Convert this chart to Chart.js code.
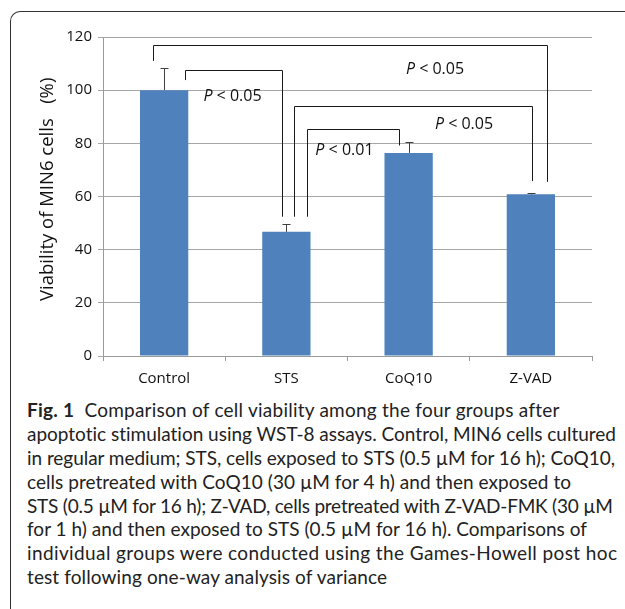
<!DOCTYPE html>
<html>
<head>
<meta charset="utf-8">
<script src="https://cdn.jsdelivr.net/npm/chart.js@4/dist/chart.umd.min.js"></script>
<style>
  html, body { margin: 0; padding: 0; background: #fff; overflow: hidden; }
  body { width: 625px; height: 609px; position: relative; }
  #frame {
    position: absolute; left: 10px; top: 11px; width: 800px; height: 800px;
    border-left: 1px solid #333; border-top: 1px solid #333;
    border-top-left-radius: 10px;
  }
  #chart { position: absolute; left: 0; top: 0; }
  #caption {
    position: absolute; left: 27px; top: 398px;
    font-family: Lato, "Open Sans", sans-serif; font-size: 19px; color: #222;
  }
  #caption div { white-space: nowrap; height: 23.9px; line-height: 23.9px; }
  #caption b { font-weight: 700; }
</style>
</head>
<body>
<div id="frame"></div>
<canvas id="chart" width="625" height="395"></canvas>
<div id="caption"></div>

<script>
// Data
const groups = ['Control', 'STS', 'CoQ10', 'Z-VAD'];
const viability = [100, 46.7, 76.4, 60.8];
const sdUpper = [8.2, 2.8, 4.1, 0.6];
const yTicks = [0, 20, 40, 60, 80, 100, 120];

// Pairwise comparisons shown with brackets
const pairs = [[0, 3], [0, 1], [1, 3], [1, 2]];
const pLabels = ['P < 0.05', 'P < 0.05', 'P < 0.05', 'P < 0.01'];

// Bracket geometry (x in category units, y in axis units)
const bracketShape = [
  { x1: -0.093, x2: 3.129, top: 116.9, foot1: 111, foot2: 65.5, lx: 2.216, ly: 107.8 },
  { x1: 0.173, x2: 0.962, top: 107.4, foot1: 103.8, foot2: 52.4, lx: 0.559, ly: 97.7 },
  { x1: 1.065, x2: 3.012, top: 94, foot1: 52.4, foot2: 65.8, lx: 2.453, ly: 87.2 },
  { x1: 1.169, x2: 1.924, top: 85.4, foot1: 52.4, foot2: 79.2, lx: 1.475, ly: 77.4 }
];

// Error bars (upper only) drawn through the scales
const errorBars = {
  id: 'errorBars',
  afterDatasetsDraw(chart) {
    const ctx = chart.ctx;
    const y = chart.scales.y;
    const meta = chart.getDatasetMeta(0);
    ctx.save();
    ctx.strokeStyle = '#404040';
    ctx.lineWidth = 1;
    meta.data.forEach((bar, i) => {
      const x = Math.round(bar.x) + 0.5;
      const yTop = Math.round(y.getPixelForValue(viability[i] + sdUpper[i])) + 0.5;
      const yBase = y.getPixelForValue(viability[i]);
      ctx.beginPath();
      ctx.moveTo(x, yBase);
      ctx.lineTo(x, yTop);
      ctx.moveTo(x - 4, yTop);
      ctx.lineTo(x + 4, yTop);
      ctx.stroke();
    });
    ctx.restore();
  }
};

// Significance brackets and their labels
const brackets = {
  id: 'brackets',
  afterDraw(chart) {
    const ctx = chart.ctx;
    const xs = chart.scales.x, ys = chart.scales.y;
    ctx.save();
    ctx.strokeStyle = '#1a1a1a';
    ctx.lineWidth = 1;
    pairs.forEach((p, i) => {
      const b = bracketShape[i];
      const x1 = Math.round(xs.getPixelForValue(b.x1)) + 0.5;
      const x2 = Math.round(xs.getPixelForValue(b.x2)) + 0.5;
      const yt = Math.round(ys.getPixelForValue(b.top)) + 0.5;
      ctx.beginPath();
      ctx.moveTo(x1, ys.getPixelForValue(b.foot1));
      ctx.lineTo(x1, yt);
      ctx.lineTo(x2, yt);
      ctx.lineTo(x2, ys.getPixelForValue(b.foot2));
      ctx.stroke();

      // label: italic P followed by the rest
      const label = pLabels[i];
      const first = label.charAt(0), rest = label.slice(1);
      ctx.fillStyle = '#111';
      ctx.textBaseline = 'middle';
      ctx.font = 'italic 16px "Open Sans"';
      const w1 = ctx.measureText(first).width;
      ctx.font = '16px "Open Sans"';
      const w2 = ctx.measureText(rest).width;
      const cx = xs.getPixelForValue(b.lx);
      const cy = ys.getPixelForValue(b.ly);
      const start = cx - (w1 + w2) / 2;
      ctx.font = 'italic 16px "Open Sans"';
      ctx.textAlign = 'left';
      ctx.fillText(first, start, cy);
      ctx.font = '16px "Open Sans"';
      ctx.fillText(rest, start + w1, cy);
    });
    ctx.restore();
  }
};

new Chart(document.getElementById('chart'), {
  type: 'bar',
  data: {
    labels: groups,
    datasets: [{
      data: viability,
      backgroundColor: '#4f81bd',
      borderWidth: 0,
      barPercentage: 0.395,
      categoryPercentage: 1.0
    }]
  },
  options: {
    responsive: false,
    animation: false,
    events: [],
    layout: { padding: { top: 37, right: 33, bottom: 0, left: 0 } },
    plugins: { legend: { display: false }, tooltip: { enabled: false } },
    scales: {
      x: {
        afterFit(scale) { scale.height = 39; },
        grid: { offset: true, drawOnChartArea: false, tickLength: 5, color: '#9a9a9a' },
        border: { color: '#9a9a9a' },
        ticks: { color: '#111', padding: 9, font: { family: 'Open Sans', size: 15 } }
      },
      y: {
        min: 0,
        max: 120,
        afterFit(scale) { scale.width = 103; },
        afterBuildTicks(scale) { scale.ticks = yTicks.map(v => ({ value: v })); },
        grid: { color: '#a6a6a6', tickLength: 5 },
        border: { color: '#9a9a9a' },
        ticks: { color: '#111', padding: 6, font: { family: 'Open Sans', size: 15 } },
        title: {
          display: true,
          text: '   Viability of MIN6 cells   (%)',
          color: '#111',
          padding: { top: 37 },
          font: { family: 'Open Sans', size: 18.5 }
        }
      }
    }
  },
  plugins: [errorBars, brackets]
});

// Caption, one line per printed line, stretched to the printed widths
const captionLines = [
  '<b>Fig. 1</b>&nbsp; Comparison of cell viability among the four groups after',
  'apoptotic stimulation using WST-8 assays. Control, MIN6 cells cultured',
  'in regular medium; STS, cells exposed to STS (0.5 µM for 16 h); CoQ10,',
  'cells pretreated with CoQ10 (30 µM for 4 h) and then exposed to',
  'STS (0.5 µM for 16 h); Z-VAD, cells pretreated with Z-VAD-FMK (30 µM',
  'for 1 h) and then exposed to STS (0.5 µM for 16 h). Comparisons of',
  'individual groups were conducted using the Games-Howell post hoc',
  'test following one-way analysis of variance'
];
const captionWidths = [532, 590, 588, 544, 586, 560, 590, 360];
const cap = document.getElementById('caption');
captionLines.forEach((html, i) => {
  const row = document.createElement('div');
  const span = document.createElement('span');
  span.innerHTML = html;
  row.appendChild(span);
  cap.appendChild(row);
  const n = span.textContent.length - 1;
  const w = span.getBoundingClientRect().width;
  span.style.letterSpacing = ((captionWidths[i] - w) / n) + 'px';
});
</script>
</body>
</html>
